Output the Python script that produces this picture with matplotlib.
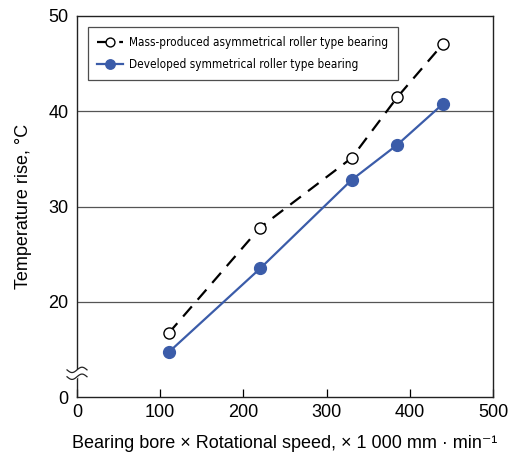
"""Temperature rise vs bearing bore x rotational speed."""

import matplotlib

matplotlib.use("Agg")

import matplotlib.pyplot as plt
import numpy as np

plt.rcParams["font.family"] = ["Liberation Sans", "DejaVu Sans"]

speed = [110, 220, 330, 385, 440]
mass_produced = [16.7, 27.8, 35.1, 41.5, 47.1]
developed = [14.7, 23.5, 32.8, 36.5, 40.8]

x_ticks = [0, 100, 200, 300, 400, 500]
y_ticks = [10, 20, 30, 40, 50]
y_tick_labels = ["0", "20", "30", "40", "50"]

BLUE = "#3b5ca9"
legend_font = {"family": "DejaVu Sans", "stretch": "condensed", "size": 8.5}

fig = plt.figure(figsize=(5.1, 4.57), dpi=100)
ax = fig.add_axes([0.151, 0.131, 0.816, 0.834])

for y in [20, 30, 40]:
    ax.axhline(y, color="#555555", linewidth=0.9, zorder=1)

ax.plot(speed, mass_produced, color="black", linestyle=(0, (6, 4)), linewidth=1.6,
        marker="o", markersize=8, markerfacecolor="white", markeredgecolor="black",
        markeredgewidth=1.0, zorder=3, label="Mass-produced asymmetrical roller type bearing")
ax.plot(speed, developed, color=BLUE, linewidth=1.6, marker="o", markersize=8.5,
        markerfacecolor=BLUE, markeredgecolor=BLUE, zorder=3,
        label="Developed symmetrical roller type bearing")

ax.set_xlim(0, 500)
ax.set_ylim(10, 50)
ax.set_xticks(x_ticks)
ax.set_yticks(y_ticks)
ax.set_yticklabels(y_tick_labels)
ax.tick_params(axis="x", direction="in", length=6, width=0.9, labelsize=13, pad=5)
ax.tick_params(axis="y", length=0, labelsize=13, pad=6)
for spine in ax.spines.values():
    spine.set_linewidth(1.0)
    spine.set_color("#222222")

ax.set_xlabel("Bearing bore \u00d7 Rotational speed, \u00d7 1 000 mm \u00b7 min\u207b\u00b9",
              fontsize=13, labelpad=10)
ax.set_ylabel("Temperature rise, \u00b0C", fontsize=13, labelpad=12)

# axis break mark on the left spine
yb = (12.5 - 10) / 40
t = np.linspace(-1, 1, 30)
wave = 0.007 * np.sin(t * np.pi)
ax.fill_between(t * 0.024, yb - 0.009 + wave, yb + 0.009 + wave, color="white",
                transform=ax.transAxes, clip_on=False, zorder=5)
for off in (-0.009, 0.009):
    ax.plot(t * 0.024, yb + off + wave, color="#222222", linewidth=0.9,
            transform=ax.transAxes, clip_on=False, zorder=6)

leg = ax.legend(loc="upper left", bbox_to_anchor=(0.026, 0.972), borderaxespad=0,
                frameon=True, fancybox=False, edgecolor="#222222", handlelength=2.2,
                markerscale=0.8, borderpad=0.8, labelspacing=0.75, handletextpad=0.5,
                prop=legend_font)
leg.get_frame().set_linewidth(0.9)

fig.savefig("out.png", dpi=100)
